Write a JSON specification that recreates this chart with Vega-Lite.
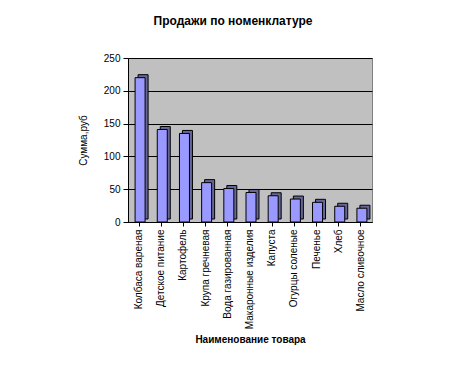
{
  "$schema": "https://vega.github.io/schema/vega-lite/v6.json",
  "autosize": {"type": "none"},
  "width": 244,
  "height": 164,
  "padding": {"left": 128, "top": 58, "right": 96, "bottom": 144},
  "background": "white",
  "title": {
    "text": "Продажи по номенклатуре",
    "font": "Liberation Sans",
    "fontSize": 12,
    "fontWeight": "bold",
    "color": "black",
    "anchor": "middle",
    "dx": -17,
    "offset": 25
  },
  "data": {
    "values": [
      {"name": "Колбаса вареная", "sum": 220},
      {"name": "Детское питание", "sum": 141},
      {"name": "Картофель", "sum": 135},
      {"name": "Крупа гречневая", "sum": 60},
      {"name": "Вода газированная", "sum": 51},
      {"name": "Макаронные изделия", "sum": 45},
      {"name": "Капуста", "sum": 40},
      {"name": "Огурцы соленые", "sum": 35},
      {"name": "Печенье", "sum": 30},
      {"name": "Хлеб", "sum": 24},
      {"name": "Масло сливочное", "sum": 21}
    ]
  },
  "encoding": {
    "x": {
      "field": "name",
      "type": "nominal",
      "sort": null,
      "title": "Наименование товара",
      "axis": {
        "labelAngle": -90,
        "labelFont": "Liberation Sans",
        "labelFontSize": 10,
        "labelColor": "black",
        "labelPadding": 3,
        "tickSize": 4,
        "tickColor": "black",
        "domainColor": "black",
        "titleFont": "Liberation Sans",
        "titleFontSize": 10,
        "titleFontWeight": "bold",
        "titleColor": "black",
        "titlePadding": 6,
        "labelLimit": 200
      }
    },
    "y": {
      "field": "sum",
      "type": "quantitative",
      "title": "Сумма,руб",
      "scale": {"domain": [0, 250]},
      "axis": {
        "values": [0, 50, 100, 150, 200, 250],
        "labelFont": "Liberation Sans",
        "labelFontSize": 10,
        "labelColor": "black",
        "labelPadding": 3,
        "tickSize": 5,
        "tickColor": "black",
        "domainColor": "black",
        "gridColor": "black",
        "gridOpacity": 1,
        "titleFont": "Liberation Sans",
        "titleFontSize": 10,
        "titleFontWeight": "normal",
        "titleColor": "black",
        "titlePadding": 15
      }
    }
  },
  "layer": [
    {
      "mark": {"type": "bar", "size": 10, "xOffset": 4, "yOffset": -3, "fill": "#666699", "stroke": "black", "strokeWidth": 1}
    },
    {
      "mark": {"type": "bar", "size": 10, "xOffset": 1, "fill": "#9999FF", "stroke": "black", "strokeWidth": 1}
    }
  ],
  "config": {
    "view": {"fill": "#C0C0C0", "stroke": "#808080"},
    "axis": {"domainWidth": 1, "tickWidth": 1}
  }
}
